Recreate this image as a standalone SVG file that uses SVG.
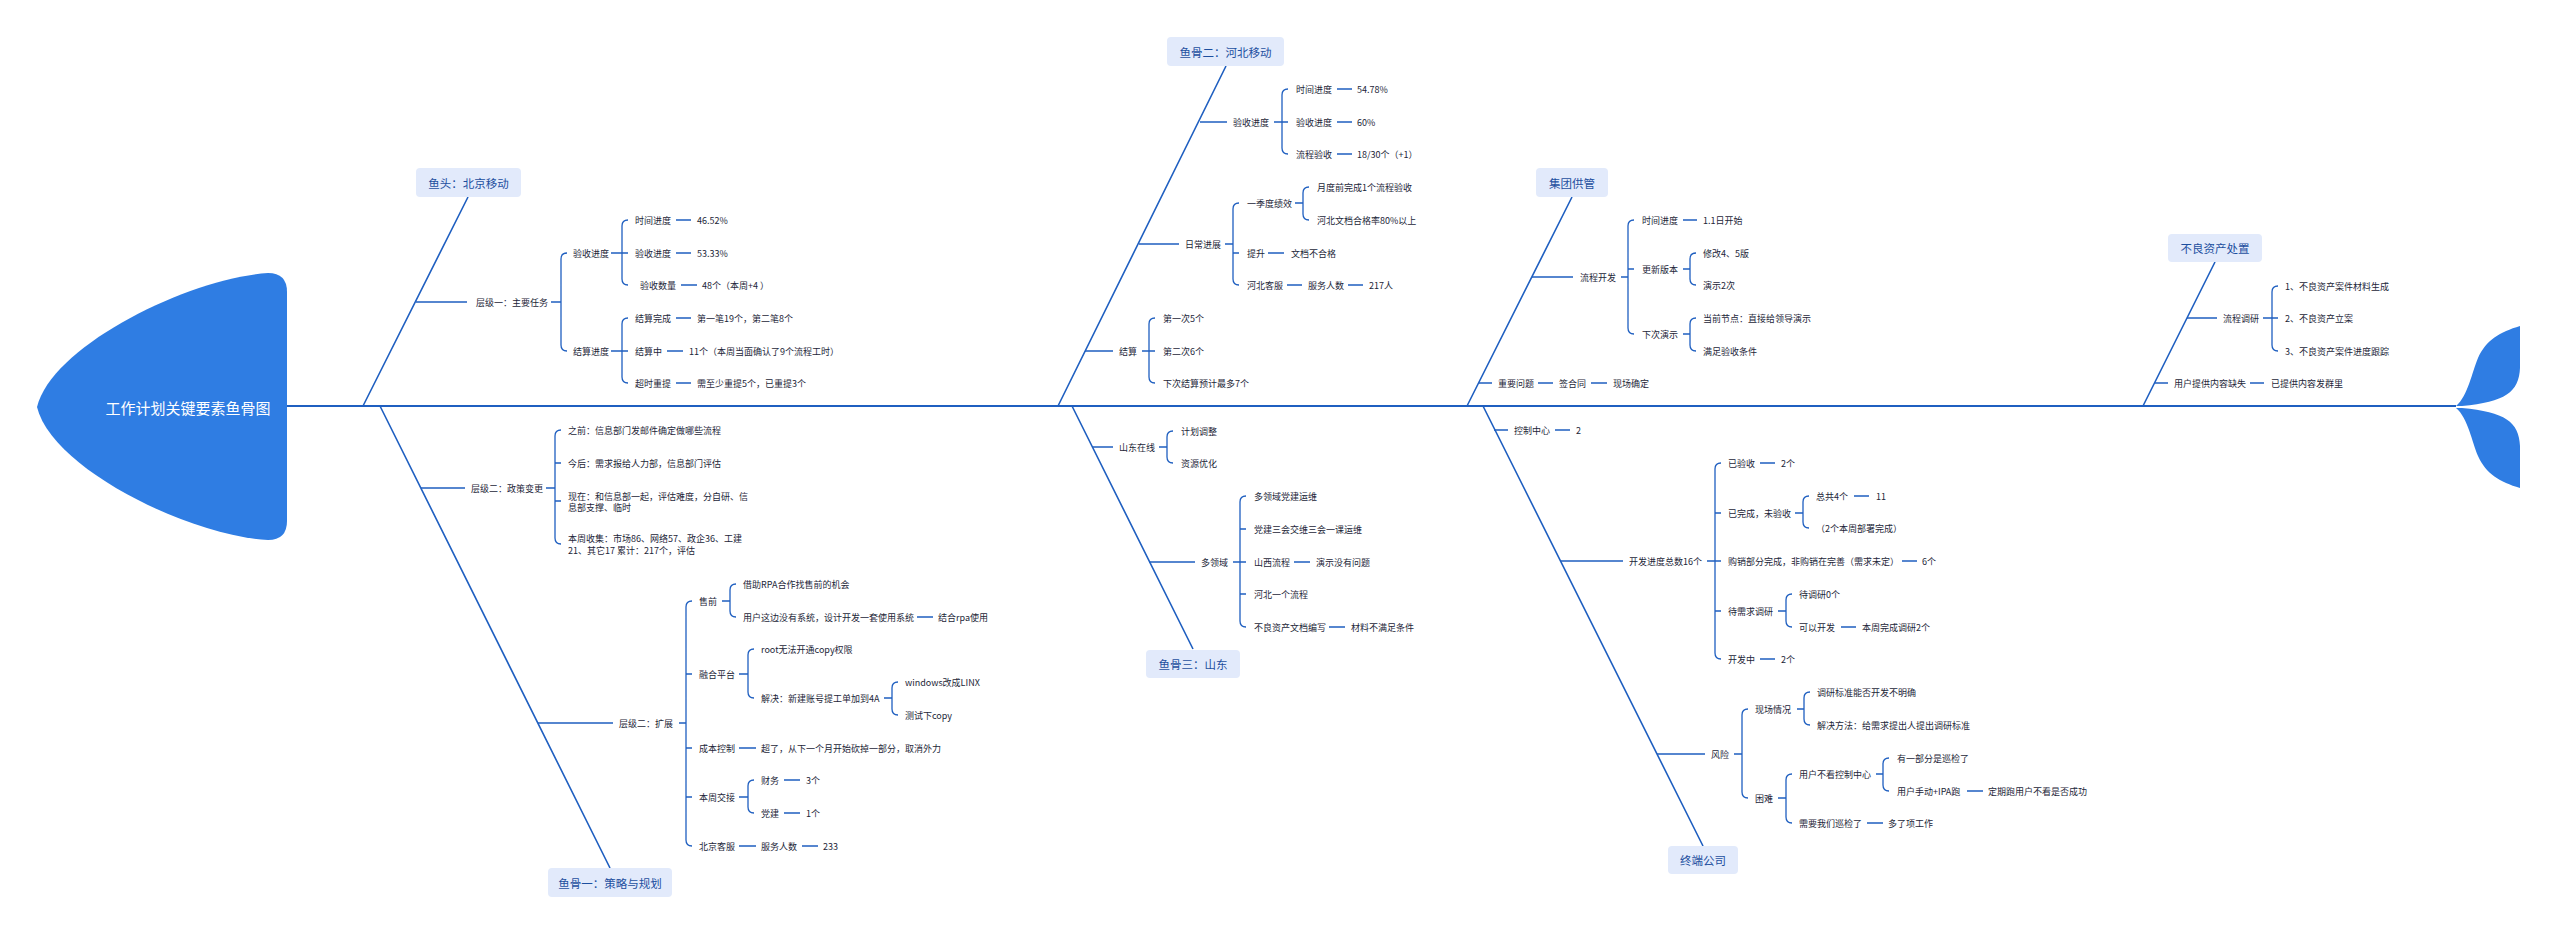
<svg xmlns="http://www.w3.org/2000/svg" width="2560" height="935" viewBox="0 0 2560 935">
<style>
text{font-family:"Noto Sans CJK SC","Microsoft YaHei","Noto Sans",sans-serif}
.n{font-size:9px;fill:#1c2638;dominant-baseline:central}
.b{font-size:11.5px;fill:#1d4f9f;text-anchor:middle;dominant-baseline:central}
.t{font-size:15px;fill:#ffffff;text-anchor:middle;dominant-baseline:central}
.box{fill:#e2eafb}
.fish{fill:#2f7de3}
.c{stroke:#1f5fc0;fill:none;stroke-width:1.3}
.bone{stroke:#1f5fc0;fill:none;stroke-width:1.6}
.spine{stroke:#1f5fc0;fill:none;stroke-width:2}
</style>
<rect width="2560" height="935" fill="#ffffff"/>
<g id="connectors">
<path class="spine" d="M287,406H2456"/>
<path class="bone" d="M363,406L468,197M380,406L610,868M1058,406L1226,66M1072,406L1193,649M1467,406L1572,197M1483,406L1703,846M2143,406L2215,262"/>
<path class="c" d="M416,302H467M551,302H561M567,253Q561,253 561,259V345Q561,351 567,351M611,253H622M628,220Q622,220 622,226V279Q622,285 628,285M622,253h6M676,220H691M676,253H691M681,285H697M611,351H622M628,318Q622,318 622,324V377Q622,383 628,383M622,351h6M676,318H691M667,351H683M676,383H691"/>
<path class="c" d="M421,488H465M546,488H555M561,430Q555,430 555,436V538Q555,544 561,544M555,463h6M555,501h6M538,723H613M679,723H686M692,601Q686,601 686,607V840Q686,846 692,846M686,674h6M686,748h6M686,797h6M722,601H730M736,584Q730,584 730,590V611Q730,617 736,617M917,617H933M739,674H748M754,649Q748,649 748,655V692Q748,698 754,698M884,698H892M898,682Q892,682 892,688V709Q892,715 898,715M739,748H756M739,797H748M754,780Q748,780 748,786V807Q748,813 754,813M784,780H800M784,813H800M739,846H756M802,846H818"/>
<path class="c" d="M1200,122H1227M1274,122H1282M1288,89Q1282,89 1282,95V148Q1282,154 1288,154M1282,122h6M1337,89H1352M1337,122H1352M1337,154H1352M1139,244H1179M1225,244H1233M1239,203Q1233,203 1233,209V279Q1233,285 1239,285M1233,253h6M1295,203H1303M1309,187Q1303,187 1303,193V214Q1303,220 1309,220M1268,253H1284M1287,285H1302M1348,285H1363M1085,351H1113M1142,351H1149M1155,318Q1149,318 1149,324V377Q1149,383 1155,383M1149,351h6"/>
<path class="c" d="M1092,447H1113M1159,447H1167M1173,431Q1167,431 1167,437V457Q1167,463 1173,463M1149,562H1195M1233,562H1240M1246,496Q1240,496 1240,502V621Q1240,627 1246,627M1240,529h6M1240,562h6M1240,594h6M1294,562H1310M1329,627H1345"/>
<path class="c" d="M1532,277H1573M1621,277H1628M1634,220Q1628,220 1628,226V328Q1628,334 1634,334M1628,269h6M1683,220H1697M1683,269H1690M1696,253Q1690,253 1690,259V279Q1690,285 1696,285M1683,334H1690M1696,318Q1690,318 1690,324V345Q1690,351 1696,351M1479,383H1492M1538,383H1553M1591,383H1607"/>
<path class="c" d="M1494,430H1508M1555,430H1570M1560,561H1623M1707,561H1715M1721,463Q1715,463 1715,469V653Q1715,659 1721,659M1715,513h6M1715,561h6M1715,611h6M1760,463H1775M1795,513H1803M1809,496Q1803,496 1803,502V522Q1803,528 1809,528M1854,496H1869M1902,561H1917M1778,611H1786M1792,594Q1786,594 1786,600V621Q1786,627 1792,627M1841,627H1856M1760,659H1775M1657,754H1705M1734,754H1742M1748,709Q1742,709 1742,715V792Q1742,798 1748,798M1797,709H1804M1810,692Q1804,692 1804,698V719Q1804,725 1810,725M1778,798H1786M1792,774Q1786,774 1786,780V817Q1786,823 1792,823M1876,774H1883M1889,758Q1883,758 1883,764V785Q1883,791 1889,791M1967,791H1983M1867,823H1883"/>
<path class="c" d="M2187,318H2217M2263,318H2272M2278,286Q2272,286 2272,292V345Q2272,351 2278,351M2272,318h6M2155,383H2168M2250,383H2264"/>
</g>
<g id="head">
<path class="fish" d="M268,273Q287,273 287,292V521Q287,540 268,540C190,536 52,469 37,407C52,345 190,278 268,273Z"/>
<text class="t" x="188" y="407">工作计划关键要素鱼骨图</text>
</g>
<g id="tail">
<path class="fish" d="M2456,406C2468,396 2472,372 2478,358C2486,340 2500,332 2520,326L2520,368C2519,392 2505,402 2462,406Z"/>
<path class="fish" d="M2456,408C2468,418 2472,442 2478,456C2486,474 2500,482 2520,488L2520,446C2519,422 2505,412 2462,408Z"/>
</g>
<g id="bone-beijing">
<rect class="box" x="416" y="168" width="105" height="29" rx="4"/>
<text class="b" x="468.5" y="182.5">鱼头：北京移动</text>
<text class="n" x="476" y="302">层级一：主要任务</text>
<text class="n" x="573" y="253">验收进度</text>
<text class="n" x="635" y="220">时间进度</text>
<text class="n" x="697" y="220">46.52%</text>
<text class="n" x="635" y="253">验收进度</text>
<text class="n" x="697" y="253">53.33%</text>
<text class="n" x="640" y="285">验收数量</text>
<text class="n" x="702" y="285">48个（本周+4 ）</text>
<text class="n" x="573" y="351">结算进度</text>
<text class="n" x="635" y="318">结算完成</text>
<text class="n" x="697" y="318">第一笔19个，第二笔8个</text>
<text class="n" x="635" y="351">结算中</text>
<text class="n" x="689" y="351">11个（本周当面确认了9个流程工时）</text>
<text class="n" x="635" y="383">超时重提</text>
<text class="n" x="697" y="383">需至少重提5个，已重提3个</text>
</g>
<g id="bone-strategy">
<rect class="box" x="548" y="868" width="124" height="29" rx="4"/>
<text class="b" x="610" y="882.5">鱼骨一：策略与规划</text>
<text class="n" x="471" y="488">层级二：政策变更</text>
<text class="n" x="568" y="430">之前：信息部门发邮件确定做哪些流程</text>
<text class="n" x="568" y="463">今后：需求报给人力部，信息部门评估</text>
<text class="n" x="568" y="496">现在：和信息部一起，评估难度，分自研、信</text>
<text class="n" x="568" y="507">息部支撑、临时</text>
<text class="n" x="568" y="538">本周收集：市场86、网络57、政企36、工建</text>
<text class="n" x="568" y="550">21、其它17  累计：217个，评估</text>
<text class="n" x="619" y="723">层级二：扩展</text>
<text class="n" x="699" y="601">售前</text>
<text class="n" x="743" y="584">借助RPA合作找售前的机会</text>
<text class="n" x="743" y="617">用户这边没有系统，设计开发一套使用系统</text>
<text class="n" x="938" y="617">结合rpa使用</text>
<text class="n" x="699" y="674">融合平台</text>
<text class="n" x="761" y="649">root无法开通copy权限</text>
<text class="n" x="761" y="698">解决：新建账号提工单加到4A</text>
<text class="n" x="905" y="682">windows改成LINX</text>
<text class="n" x="905" y="715">测试下copy</text>
<text class="n" x="699" y="748">成本控制</text>
<text class="n" x="761" y="748">超了，从下一个月开始砍掉一部分，取消外力</text>
<text class="n" x="699" y="797">本周交接</text>
<text class="n" x="761" y="780">财务</text>
<text class="n" x="806" y="780">3个</text>
<text class="n" x="761" y="813">党建</text>
<text class="n" x="806" y="813">1个</text>
<text class="n" x="699" y="846">北京客服</text>
<text class="n" x="761" y="846">服务人数</text>
<text class="n" x="823" y="846">233</text>
</g>
<g id="bone-hebei">
<rect class="box" x="1167" y="37" width="117" height="29" rx="4"/>
<text class="b" x="1225.5" y="51.5">鱼骨二：河北移动</text>
<text class="n" x="1233" y="122">验收进度</text>
<text class="n" x="1296" y="89">时间进度</text>
<text class="n" x="1357" y="89">54.78%</text>
<text class="n" x="1296" y="122">验收进度</text>
<text class="n" x="1357" y="122">60%</text>
<text class="n" x="1296" y="154">流程验收</text>
<text class="n" x="1357" y="154">18/30个（+1）</text>
<text class="n" x="1185" y="244">日常进展</text>
<text class="n" x="1247" y="203">一季度绩效</text>
<text class="n" x="1317" y="187">月度前完成1个流程验收</text>
<text class="n" x="1317" y="220">河北文档合格率80%以上</text>
<text class="n" x="1247" y="253">提升</text>
<text class="n" x="1291" y="253">文档不合格</text>
<text class="n" x="1247" y="285">河北客服</text>
<text class="n" x="1308" y="285">服务人数</text>
<text class="n" x="1369" y="285">217人</text>
<text class="n" x="1119" y="351">结算</text>
<text class="n" x="1163" y="318">第一次5个</text>
<text class="n" x="1163" y="351">第二次6个</text>
<text class="n" x="1163" y="383">下次结算预计最多7个</text>
</g>
<g id="bone-shandong">
<rect class="box" x="1146" y="650" width="94" height="28" rx="4"/>
<text class="b" x="1193" y="664">鱼骨三：山东</text>
<text class="n" x="1119" y="447">山东在线</text>
<text class="n" x="1181" y="431">计划调整</text>
<text class="n" x="1181" y="463">资源优化</text>
<text class="n" x="1201" y="562">多领域</text>
<text class="n" x="1254" y="496">多领域党建运维</text>
<text class="n" x="1254" y="529">党建三会交维三会一课运维</text>
<text class="n" x="1254" y="562">山西流程</text>
<text class="n" x="1316" y="562">演示没有问题</text>
<text class="n" x="1254" y="594">河北一个流程</text>
<text class="n" x="1254" y="627">不良资产文档编写</text>
<text class="n" x="1351" y="627">材料不满足条件</text>
</g>
<g id="bone-group">
<rect class="box" x="1536" y="168" width="72" height="29" rx="4"/>
<text class="b" x="1572" y="182.5">集团供管</text>
<text class="n" x="1580" y="277">流程开发</text>
<text class="n" x="1642" y="220">时间进度</text>
<text class="n" x="1703" y="220">1.1日开始</text>
<text class="n" x="1642" y="269">更新版本</text>
<text class="n" x="1703" y="253">修改4、5版</text>
<text class="n" x="1703" y="285">演示2次</text>
<text class="n" x="1642" y="334">下次演示</text>
<text class="n" x="1703" y="318">当前节点：直接给领导演示</text>
<text class="n" x="1703" y="351">满足验收条件</text>
<text class="n" x="1498" y="383">重要问题</text>
<text class="n" x="1559" y="383">签合同</text>
<text class="n" x="1613" y="383">现场确定</text>
</g>
<g id="bone-terminal">
<rect class="box" x="1668" y="846" width="70" height="28" rx="4"/>
<text class="b" x="1703" y="860">终端公司</text>
<text class="n" x="1514" y="430">控制中心</text>
<text class="n" x="1576" y="430">2</text>
<text class="n" x="1629" y="561">开发进度总数16个</text>
<text class="n" x="1728" y="463">已验收</text>
<text class="n" x="1781" y="463">2个</text>
<text class="n" x="1728" y="513">已完成，未验收</text>
<text class="n" x="1816" y="496">总共4个</text>
<text class="n" x="1876" y="496">11</text>
<text class="n" x="1816" y="528">（2个本周部署完成）</text>
<text class="n" x="1728" y="561">购销部分完成，非购销在完善（需求未定）</text>
<text class="n" x="1922" y="561">6个</text>
<text class="n" x="1728" y="611">待需求调研</text>
<text class="n" x="1799" y="594">待调研0个</text>
<text class="n" x="1799" y="627">可以开发</text>
<text class="n" x="1862" y="627">本周完成调研2个</text>
<text class="n" x="1728" y="659">开发中</text>
<text class="n" x="1781" y="659">2个</text>
<text class="n" x="1711" y="754">风险</text>
<text class="n" x="1755" y="709">现场情况</text>
<text class="n" x="1817" y="692">调研标准能否开发不明确</text>
<text class="n" x="1817" y="725">解决方法：给需求提出人提出调研标准</text>
<text class="n" x="1755" y="798">困难</text>
<text class="n" x="1799" y="774">用户不看控制中心</text>
<text class="n" x="1897" y="758">有一部分是巡检了</text>
<text class="n" x="1897" y="791">用户手动+IPA跑</text>
<text class="n" x="1988" y="791">定期跑用户不看是否成功</text>
<text class="n" x="1799" y="823">需要我们巡检了</text>
<text class="n" x="1888" y="823">多了项工作</text>
</g>
<g id="bone-asset">
<rect class="box" x="2168" y="234" width="94" height="28" rx="4"/>
<text class="b" x="2215" y="248">不良资产处置</text>
<text class="n" x="2223" y="318">流程调研</text>
<text class="n" x="2285" y="286">1、不良资产案件材料生成</text>
<text class="n" x="2285" y="318">2、不良资产立案</text>
<text class="n" x="2285" y="351">3、不良资产案件进度跟踪</text>
<text class="n" x="2174" y="383">用户提供内容缺失</text>
<text class="n" x="2271" y="383">已提供内容发群里</text>
</g>
</svg>
